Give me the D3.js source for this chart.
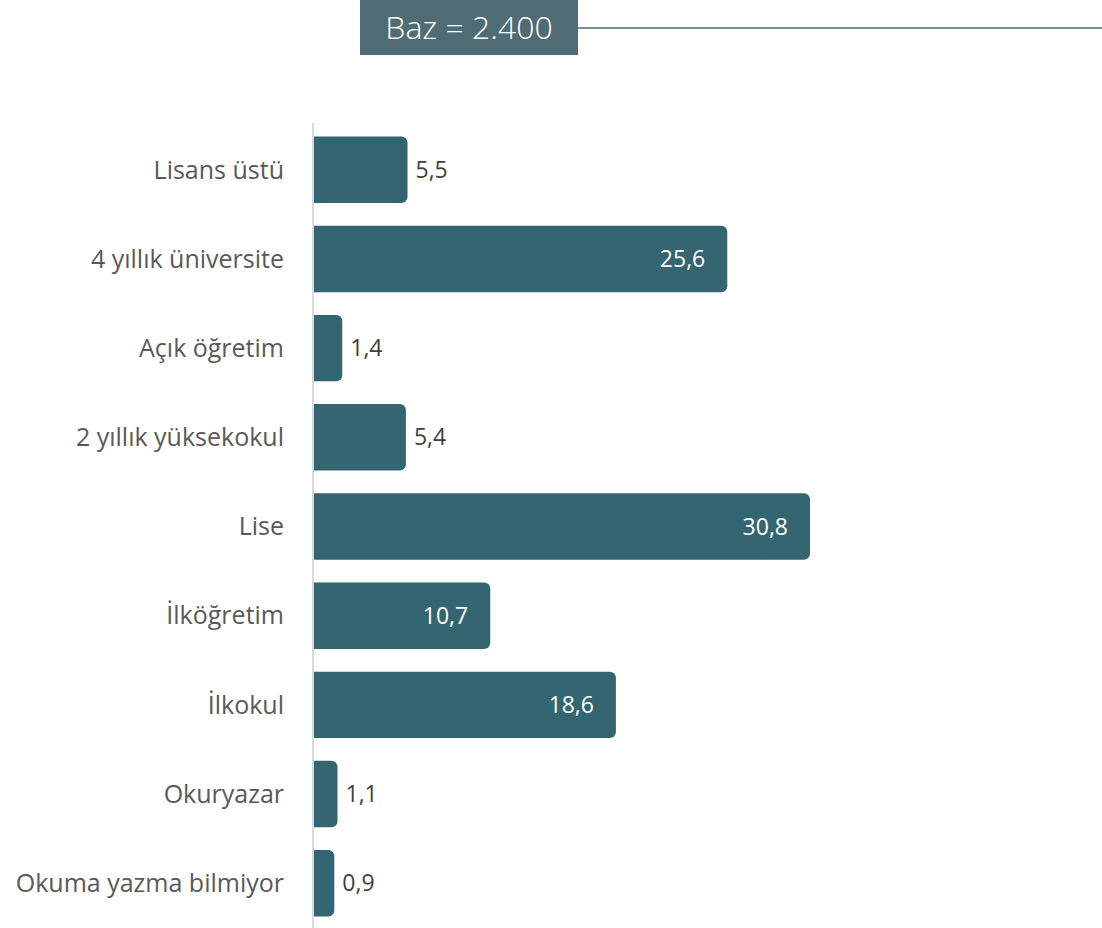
<!DOCTYPE html>
<html>
<head>
<meta charset="utf-8">
<script src="https://cdn.jsdelivr.net/npm/d3@7"></script>
<style>
  html, body { margin: 0; padding: 0; background: #ffffff; }
  svg { display: block; }
</style>
</head>
<body>
<svg id="chart" width="1102" height="928"></svg>
<script>
// Education level distribution (%), base n = 2.400
const categories = [
  "Lisans üstü",
  "4 yıllık üniversite",
  "Açık öğretim",
  "2 yıllık yüksekokul",
  "Lise",
  "İlköğretim",
  "İlkokul",
  "Okuryazar",
  "Okuma yazma bilmiyor"
];
const values = [5.5, 25.6, 1.4, 5.4, 30.8, 10.7, 18.6, 1.1, 0.9];
const baseLabel = "Baz = 2.400";
// values at or above this are labelled inside the bar
const insideThreshold = 10;

const W = 1102, H = 928;
const barColor = "#336670";
const headerColor = "#4f6c74";
const labelColor = "#595959";
const valueColor = "#404040";
const fontFamily = "'Open Sans', 'Noto Sans', sans-serif";

const svg = d3.select("#chart");

const axisX = 313;
const y = d3.scaleBand()
  .domain(categories)
  .range([125, 928])
  .paddingInner(0.255)
  .paddingOuter(0.13);

const x = d3.scaleLinear()
  .domain([0, 30.8])
  .range([320, 810]);

const fmt = v => d3.format(".1f")(v).replace(".", ",");

// bar with rounded right-hand corners, starting at the axis line
function barPath(d, i) {
  const x0 = axisX, x1 = x(d), y0 = y(categories[i]), h = y.bandwidth();
  const r = Math.min(6, (x1 - x0) / 2);
  return `M${x0},${y0}H${x1 - r}A${r},${r} 0 0 1 ${x1},${y0 + r}` +
         `V${y0 + h - r}A${r},${r} 0 0 1 ${x1 - r},${y0 + h}H${x0}Z`;
}

svg.append("g")
  .selectAll("path")
  .data(values)
  .join("path")
  .attr("d", barPath)
  .attr("fill", barColor);

// vertical category axis line
svg.append("line")
  .attr("x1", axisX).attr("x2", axisX)
  .attr("y1", 123).attr("y2", H)
  .attr("stroke", "#d9d9d9")
  .attr("stroke-width", 2);

// category labels
svg.append("g")
  .selectAll("text")
  .data(categories)
  .join("text")
  .attr("x", 284)
  .attr("y", d => y(d) + y.bandwidth() / 2)
  .attr("dy", "0.35em")
  .attr("text-anchor", "end")
  .attr("font-family", fontFamily)
  .attr("font-size", 25)
  .attr("fill", labelColor)
  .text(d => d);

// value labels
svg.append("g")
  .selectAll("text")
  .data(values)
  .join("text")
  .attr("x", d => d >= insideThreshold ? x(d) - 22 : x(d) + 8)
  .attr("y", (d, i) => y(categories[i]) + y.bandwidth() / 2)
  .attr("dy", "0.35em")
  .attr("text-anchor", d => d >= insideThreshold ? "end" : "start")
  .attr("font-family", fontFamily)
  .attr("font-size", 23)
  .attr("fill", d => d >= insideThreshold ? "#ffffff" : valueColor)
  .text(fmt);

// header: base size box with rule
const header = svg.append("g");
header.append("line")
  .attr("x1", 578).attr("x2", W)
  .attr("y1", 28).attr("y2", 28)
  .attr("stroke", headerColor)
  .attr("stroke-width", 1.5);
header.append("rect")
  .attr("x", 360).attr("y", 0)
  .attr("width", 218).attr("height", 55)
  .attr("fill", headerColor);
header.append("text")
  .attr("x", 469).attr("y", 28)
  .attr("dy", "0.35em")
  .attr("text-anchor", "middle")
  .attr("font-family", fontFamily)
  .attr("font-weight", 300)
  .attr("font-size", 32)
  .attr("fill", "#ffffff")
  .text(baseLabel);
</script>
</body>
</html>
